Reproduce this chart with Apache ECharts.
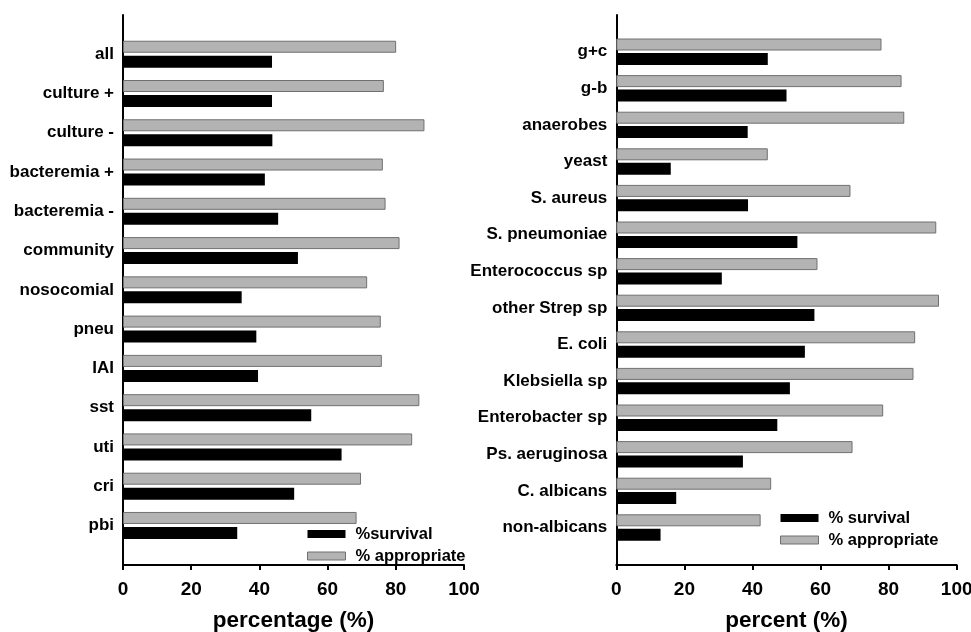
<!DOCTYPE html>
<html>
<head>
<meta charset="utf-8">
<script src="https://cdn.jsdelivr.net/npm/echarts@6/dist/echarts.min.js"></script>
<style>
html,body{margin:0;padding:0;background:#fff;}
#chart{width:971px;height:632px;}
</style>
</head>
<body>
<div id="chart"></div>
<script>
const leftCategories = ['all','culture +','culture -','bacteremia +','bacteremia -','community','nosocomial','pneu','IAI','sst','uti','cri','pbi'];
const leftAppropriate = [80.1,76.5,88.4,76.2,77.0,81.1,71.6,75.6,75.9,86.9,84.8,69.8,68.5];
const leftSurvival = [43.7,43.7,43.8,41.6,45.5,51.3,34.8,39.1,39.6,55.2,64.1,50.2,33.5];

const rightCategories = ['g+c','g-b','anaerobes','yeast','S. aureus','S. pneumoniae','Enterococcus sp','other Strep sp','E. coli','Klebsiella sp','Enterobacter sp','Ps. aeruginosa','C. albicans','non-albicans'];
const rightAppropriate = [77.9,83.8,84.6,44.5,68.8,94.0,59.1,94.8,87.8,87.3,78.4,69.4,45.5,42.4];
const rightSurvival = [44.5,50.0,38.6,16.0,38.7,53.2,31.0,58.2,55.4,51.0,47.3,37.2,17.6,13.0];

const xMin = 0, xMax = 100, xInterval = 20;

const FONT = '"Liberation Sans", Arial, sans-serif';
const grayStyle = {color:'#b3b3b3', borderColor:'#707070', borderWidth:1};
const blackStyle = {color:'#000000'};

function valueAxis(grid, offset, name) {
  return {
    type:'value', gridIndex:grid, min:xMin, max:xMax, interval:xInterval,
    offset:offset,
    axisLine:{show:true, onZero:false, lineStyle:{color:'#000', width:2}},
    axisTick:{show:true, length:5, lineStyle:{color:'#000', width:2}},
    axisLabel:{margin:15, color:'#000', fontFamily:FONT, fontWeight:'bold', fontSize:19},
    splitLine:{show:false},
    name:name, nameLocation:'middle', nameGap:44,
    nameTextStyle:{color:'#000', fontFamily:FONT, fontWeight:'bold', fontSize:22.5}
  };
}
function hiddenX(grid){
  return {type:'value', gridIndex:grid, show:false, min:0, max:1};
}
function catAxis(grid, data){
  return {
    type:'category', gridIndex:grid, data:data, inverse:true,
    axisLine:{show:false}, axisTick:{show:false},
    axisLabel:{margin:9, color:'#000', fontFamily:FONT, fontWeight:'bold', fontSize:17},
    splitLine:{show:false}
  };
}
function frameY(grid){
  return {
    type:'value', gridIndex:grid, min:0, max:1,
    axisLine:{show:true, onZero:false, lineStyle:{color:'#000', width:2}},
    axisTick:{show:false}, axisLabel:{show:false}, splitLine:{show:false}
  };
}
function legendCfg(names, left, top){
  return {data:names, orient:'vertical', left:left, top:top, padding:0,
    itemWidth:38, itemHeight:8, itemGap:5, icon:'rect',
    itemStyle:{borderWidth:1},
    textStyle:{color:'#000', fontFamily:FONT, fontWeight:'bold', fontSize:16.5, padding:[0,0,0,5]}};
}

const option = {
  animation:false,
  backgroundColor:'#fff',
  grid:[
    {left:123, right:507, top:34.6, height:510.5, outerBoundsMode:'none', containLabel:false},
    {left:123, right:507, top:15, height:550, outerBoundsMode:'none', containLabel:false},
    {left:616.3, right:14.3, top:33.4, height:512.4, outerBoundsMode:'none', containLabel:false},
    {left:616.3, right:14.3, top:15, height:550, outerBoundsMode:'none', containLabel:false}
  ],
  xAxis:[
    valueAxis(0, 19.9, 'percentage (%)'),
    hiddenX(1),
    valueAxis(2, 19.2, 'percent (%)'),
    hiddenX(3)
  ],
  yAxis:[
    catAxis(0, leftCategories),
    frameY(1),
    catAxis(2, rightCategories),
    frameY(3)
  ],
  legend:[
    legendCfg(['%survival','% appropriate'], 307, 525.5),
    legendCfg(['% survival','% appropriate'], 780, 509.5)
  ],
  series:[
    {name:'% appropriate', type:'bar', xAxisIndex:0, yAxisIndex:0, data:leftAppropriate,
     barWidth:12, barGap:'25%', itemStyle:grayStyle},
    {name:'%survival', type:'bar', xAxisIndex:0, yAxisIndex:0, data:leftSurvival,
     barWidth:12, barGap:'25%', itemStyle:blackStyle},
    {name:'% appropriate', type:'bar', xAxisIndex:2, yAxisIndex:2, data:rightAppropriate,
     barWidth:12, barGap:'20%', itemStyle:grayStyle},
    {name:'% survival', type:'bar', xAxisIndex:2, yAxisIndex:2, data:rightSurvival,
     barWidth:12, barGap:'20%', itemStyle:blackStyle}
  ]
};
const chart = echarts.init(document.getElementById('chart'), null, {renderer:'canvas'});
chart.setOption(option);
</script>
</body>
</html>
